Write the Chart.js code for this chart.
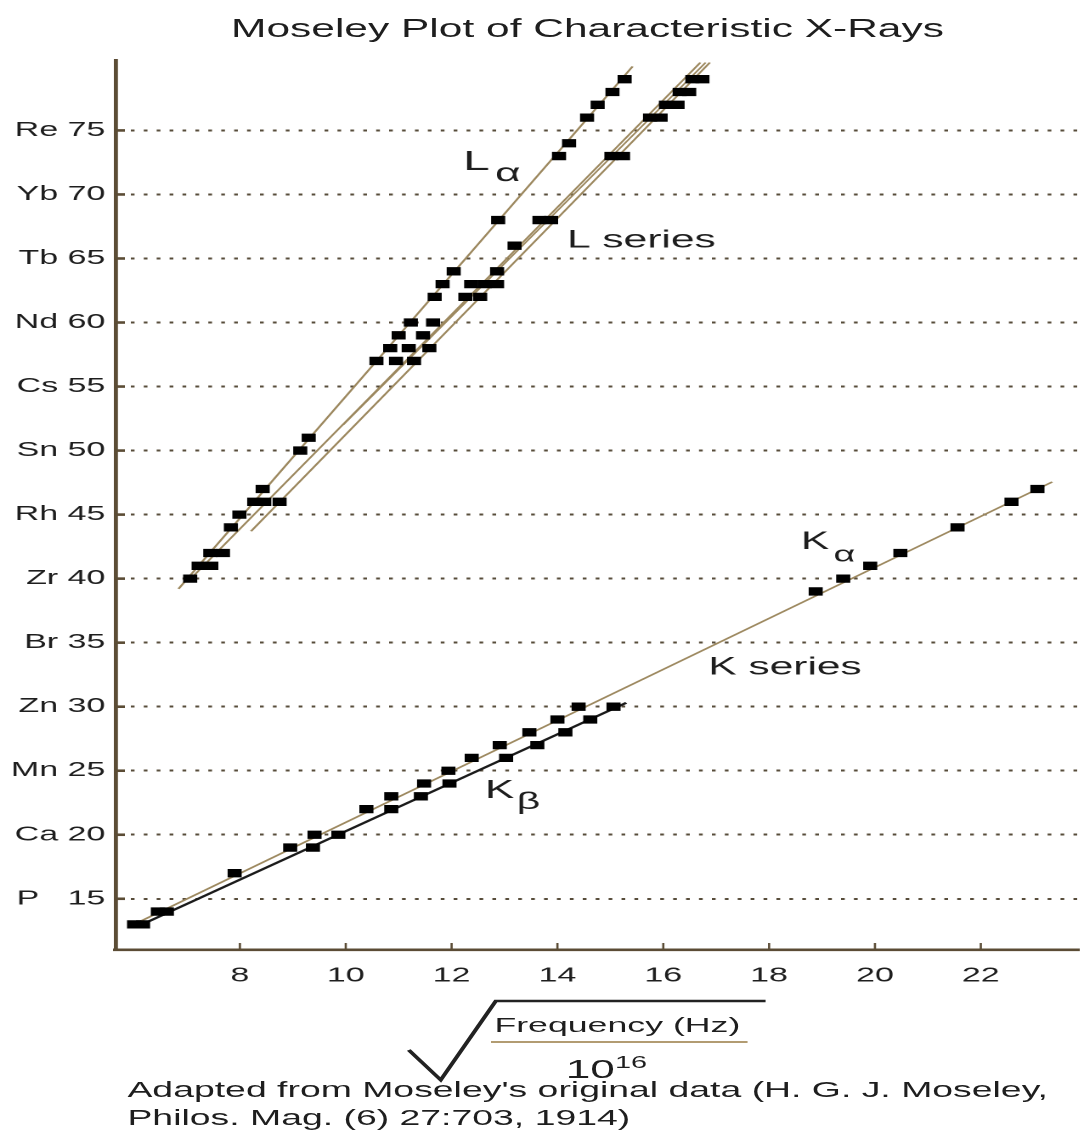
<!DOCTYPE html>
<html>
<head>
<meta charset="utf-8">
<title>Moseley Plot of Characteristic X-Rays</title>
<script src="https://cdn.jsdelivr.net/npm/chart.js@4.4.1/dist/chart.umd.min.js"></script>
<style>
  html, body { margin: 0; padding: 0; background: #fff; }
  body { width: 1089px; height: 1141px; overflow: hidden; position: relative; }
  /* the source picture is stretched sideways, so draw narrow and widen the whole stage */
  #stage { position: absolute; left: 0; top: 0; width: 641px; height: 1141px;
           transform: scaleX(1.699); transform-origin: 0 0;
           font-family: "Liberation Sans", Arial, sans-serif; color: #1e1e1e; }
  #moseleyChart { position: absolute; left: 0; top: 0; }
  #root { position: absolute; left: 0; top: 0; }
  .txt { position: absolute; white-space: nowrap; line-height: 1; }
  #title { left: 136px; top: 16px; font-size: 25px; }
  #freq { left: 291px; top: 1014px; font-size: 21px; }
  #fracBar { position: absolute; left: 289px; top: 1041px; width: 151px; height: 2px; background: #b29c72; }
  #ten { left: 333px; top: 1056px; font-size: 26px; }
  #ten span { font-size: 17px; position: relative; top: -10px; }
  #caption { left: 75px; top: 1076px; font-size: 22px; line-height: 28px; }
</style>
</head>
<body>
<div id="stage">
  <canvas id="moseleyChart" width="641" height="1141"></canvas>
  <div class="txt" id="title">Moseley Plot of Characteristic X-Rays</div>
  <svg id="root" width="641" height="1141">
    <polyline points="240.6,1050 259.4,1080 291.8,1001 450.6,1001" fill="none" stroke="#222" stroke-width="2.6" stroke-linejoin="miter"/>
  </svg>
  <div class="txt" id="freq">Frequency (Hz)</div>
  <div id="fracBar"></div>
  <div class="txt" id="ten">10<span>16</span></div>
  <div class="txt" id="caption">Adapted from Moseley's original data (H. G. J. Moseley,<br>Philos. Mag. (6) 27:703, 1914)</div>
</div>

<script>
// =========================
// Data (x = sqrt(frequency / 1e16), y = atomic number)
// =========================

const yTickValues = [15, 20, 25, 30, 35, 40, 45, 50, 55, 60, 65, 70, 75];
const yTickElements = ["P  ", "Ca", "Mn", "Zn", "Br", "Zr", "Rh", "Sn", "Cs", "Nd", "Tb", "Yb", "Re"];
const xTickValues = [8, 10, 12, 14, 16, 18, 20, 22];

// K series
const kAlphaZ = [13, 14, 17, 19, 20, 22, 23, 24, 25, 26, 27, 28, 29, 30, 39, 40, 41, 42, 44, 46, 47];
const kAlphaX = [6.00, 6.45, 7.90, 8.95, 9.41, 10.39, 10.86, 11.48, 11.94, 12.38, 12.91, 13.47, 14.00, 14.40,
                 18.88, 19.40, 19.91, 20.48, 21.56, 22.58, 23.07];
const kBetaZ = [13, 14, 19, 20, 22, 23, 24, 26, 27, 28, 29, 30];
const kBetaX = [6.17, 6.62, 9.38, 9.86, 10.86, 11.42, 11.96, 13.03, 13.62, 14.15, 14.62, 15.06];

// L series
const lAlphaZ = [40, 41, 42, 44, 45, 46, 47, 50, 51, 57, 58, 59, 60, 62, 63, 64, 68, 73, 74, 76, 77, 78, 79];
const lAlphaX = [7.06, 7.22, 7.44, 7.83, 7.99, 8.27, 8.43, 9.14, 9.30, 10.58, 10.84, 11.00, 11.23, 11.68, 11.83,
                 12.04, 12.88, 14.03, 14.22, 14.56, 14.76, 15.04, 15.27];
const lBetaZ = [41, 42, 46, 57, 58, 59, 60, 62, 63, 64, 66, 68, 73, 76, 77, 78, 79];
const lBetaX = [7.46, 7.68, 8.46, 10.95, 11.19, 11.46, 11.65, 12.26, 12.37, 12.86, 13.19, 13.66, 15.02,
                15.75, 16.05, 16.31, 16.55];
const lOtherZ = [46, 57, 58, 62, 63, 63, 68, 73, 76, 77, 78, 79];
const lOtherX = [8.75, 11.29, 11.58, 12.54, 12.63, 12.86, 13.88, 15.24, 15.95, 16.27, 16.49, 16.74];

// fitted straight lines (end points)
const kAlphaFitX = [6.00, 23.35];
const kAlphaFitZ = [13.0, 47.55];
const kBetaFitX = [6.10, 15.30];
const kBetaFitZ = [12.9, 30.3];
const lAlphaFitX = [6.84, 15.42];
const lAlphaFitZ = [39.2, 80.0];
const lBetaFitX = [7.12, 16.70];
const lBetaFitZ = [40.2, 80.3];
const lGammaFitX = [8.21, 16.88];
const lGammaFitZ = [43.7, 80.3];
const lPhiFitX = [9.95, 16.80];
const lPhiFitZ = [52.0, 80.3];

// =========================
// Styles
// =========================

const axisColor = "#5b4c35";
const gridColor = "#574c3a";
const fitColor = "#9d8960";
const textColor = "#1e1e1e";
const fontFamily = '"Liberation Sans", Arial, sans-serif';

Chart.defaults.font.family = fontFamily;
Chart.defaults.color = textColor;

function toPoints(xs, zs) {
  return xs.map((x, i) => ({ x: x, y: zs[i] }));
}

function markerSet(xs, zs) {
  return {
    data: toPoints(xs, zs),
    showLine: false,
    pointStyle: "rect",
    pointRadius: 5.3,
    pointBorderWidth: 0.8,
    pointBackgroundColor: "#000",
    pointBorderColor: "#000",
    order: 0
  };
}

function fitSet(xs, zs, color, width) {
  return {
    data: toPoints(xs, zs),
    showLine: true,
    borderColor: color,
    borderWidth: width,
    pointRadius: 0,
    fill: false,
    order: 1
  };
}

// labels drawn in data space
const notes = [
  { t: "L", x: 12.22, y: 71.9, size: 28 },
  { t: "\u03b1", x: 12.82, y: 71.05, size: 26 },
  { t: "L series", x: 14.18, y: 65.84, size: 25 },
  { t: "K", x: 18.6, y: 42.3, size: 25 },
  { t: "\u03b1", x: 19.22, y: 41.34, size: 22 },
  { t: "K series", x: 16.85, y: 32.53, size: 25 },
  { t: "K", x: 12.63, y: 22.88, size: 26 },
  { t: "\u03b2", x: 13.23, y: 22.03, size: 24 }
];

const overlay = {
  id: "overlay",
  afterDraw(chart) {
    const { ctx, chartArea: a, scales: { x, y } } = chart;
    ctx.save();
    ctx.strokeStyle = axisColor;
    // short inward tick marks
    ctx.lineWidth = 2.6;
    yTickValues.forEach(v => {
      const py = y.getPixelForValue(v);
      ctx.beginPath();
      ctx.moveTo(a.left, py);
      ctx.lineTo(a.left + 5.5, py);
      ctx.stroke();
    });
    ctx.lineWidth = 1.3;
    xTickValues.forEach(v => {
      const px = x.getPixelForValue(v);
      ctx.beginPath();
      ctx.moveTo(px, a.bottom);
      ctx.lineTo(px, a.bottom - 7);
      ctx.stroke();
    });
    // series labels
    ctx.fillStyle = textColor;
    ctx.textAlign = "left";
    ctx.textBaseline = "alphabetic";
    notes.forEach(n => {
      ctx.font = n.size + "px " + fontFamily;
      ctx.fillText(n.t, x.getPixelForValue(n.x), y.getPixelForValue(n.y));
    });
    ctx.restore();
  }
};

// =========================
// Create Chart
// =========================

const ctx = document.getElementById("moseleyChart").getContext("2d");

const moseleyChart = new Chart(ctx, {
  type: "scatter",
  data: {
    datasets: [
      markerSet(kAlphaX, kAlphaZ),
      markerSet(kBetaX, kBetaZ),
      markerSet(lAlphaX, lAlphaZ),
      markerSet(lBetaX, lBetaZ),
      markerSet(lOtherX, lOtherZ),
      fitSet(kAlphaFitX, kAlphaFitZ, fitColor, 1.5),
      fitSet(kBetaFitX, kBetaFitZ, "#1b1b1b", 2),
      fitSet(lAlphaFitX, lAlphaFitZ, fitColor, 1.4),
      fitSet(lBetaFitX, lBetaFitZ, fitColor, 1.4),
      fitSet(lGammaFitX, lGammaFitZ, fitColor, 1.4),
      fitSet(lPhiFitX, lPhiFitZ, fitColor, 1.2)
    ]
  },
  options: {
    responsive: false,
    devicePixelRatio: 2,
    animation: false,
    layout: { padding: { top: 60, right: 0, bottom: 151, left: 0 } },
    plugins: {
      legend: { display: false },
      tooltip: { enabled: false }
    },
    scales: {
      x: {
        type: "linear",
        min: 5.65,
        max: 23.85,
        afterBuildTicks: s => { s.ticks = xTickValues.map(v => ({ value: v })); },
        afterFit: s => { s.height = 40; },
        grid: { display: false, drawTicks: false },
        border: { display: true, color: axisColor, width: 2.6 },
        ticks: { padding: 14, autoSkip: false, maxRotation: 0, color: textColor, font: { size: 20 } }
      },
      y: {
        type: "linear",
        min: 11,
        max: 80.5,
        afterBuildTicks: s => { s.ticks = yTickValues.map(v => ({ value: v })); },
        afterFit: s => { s.width = 68; },
        grid: { color: gridColor, lineWidth: 2, drawTicks: false },
        border: { display: true, color: axisColor, width: 2.4, dash: [2.2, 5.4] },
        ticks: {
          padding: 6,
          color: textColor,
          font: { size: 20 },
          callback: v => {
            const i = yTickValues.indexOf(v);
            return i < 0 ? "" : yTickElements[i] + " " + v;
          }
        }
      }
    }
  },
  plugins: [overlay]
});
</script>
</body>
</html>
